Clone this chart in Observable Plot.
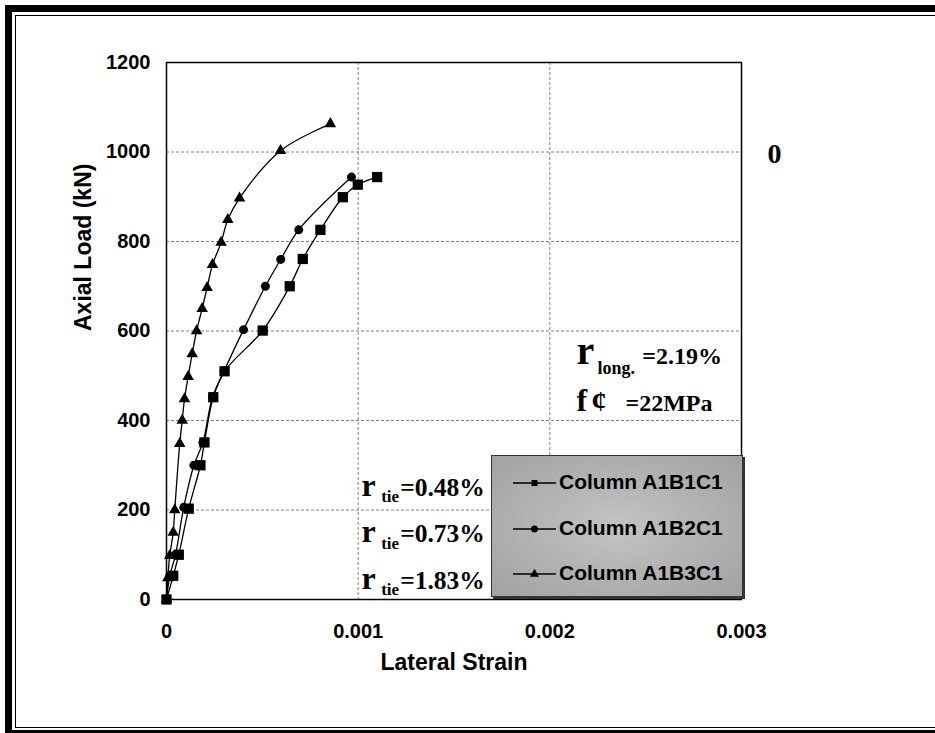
<!DOCTYPE html>
<html><head><meta charset="utf-8">
<script src="https://cdn.jsdelivr.net/npm/d3@7"></script>
<script src="https://cdn.jsdelivr.net/npm/@observablehq/plot@0.6"></script>
<style>
html,body{margin:0;padding:0;background:#fff;overflow:hidden}
#wrap{position:relative;width:935px;height:733px;overflow:hidden}
#chart svg{display:block;position:absolute;left:0;top:0}
.b1{position:absolute;left:5px;top:5px;width:930px;height:731.5px;border:7.5px solid #000;border-right:none;box-sizing:border-box}
.b2{position:absolute;left:14.7px;top:14.5px;width:920.3px;height:713px;border:1.6px solid #000;border-right:none;box-sizing:border-box}
#legend{position:absolute;left:491px;top:455px;width:252px;height:142px;box-sizing:border-box;border:1.5px solid #333;
 box-shadow:2px 2px 0 #333;background:radial-gradient(ellipse at center,#c4c4c4 0%,#b4b4b4 45%,#a2a2a2 100%);
 font-family:"Liberation Sans",Arial,sans-serif;font-weight:bold;font-size:21px;color:#000}
#legend .row{position:absolute;left:0;height:30px;width:100%}
#legend svg{position:absolute;left:21px;top:8px}
#legend span{position:absolute;left:67px;top:2px;white-space:nowrap}
</style>
</head><body>
<div id="wrap"><div class="b1"></div><div class="b2"></div><div id="chart"></div><div id="legend"></div></div>
<script>
// ---- data ----
const seriesNames = ["Column A1B1C1", "Column A1B2C1", "Column A1B3C1"];
const seriesSymbols = ["square", "circle", "triangle"];
const strainA1B1C1 = [0, 0.000035, 0.000064, 0.000116, 0.000177, 0.000198, 0.000244, 0.000303, 0.000502, 0.000643, 0.000711, 0.000803, 0.00092, 0.000998, 0.001099];
const loadA1B1C1   = [0, 53, 100, 203, 300, 351, 452, 510, 601, 700, 761, 826, 899, 927, 944];
const strainA1B2C1 = [0, 0.000017, 0.000047, 0.00009, 0.000143, 0.00019, 0.00024, 0.0003, 0.000402, 0.000516, 0.000596, 0.00069, 0.000965];
const loadA1B2C1   = [0, 53, 100, 206, 300, 351, 452, 510, 603, 700, 760, 826, 944];
const strainA1B3C1 = [0, 0.000007, 0.000017, 0.000035, 0.000043, 0.000069, 0.000082, 0.000094, 0.000113, 0.000134, 0.000157, 0.000186, 0.000212, 0.00024, 0.000285, 0.00032, 0.000381, 0.000595, 0.000855];
const loadA1B3C1   = [0, 48, 98, 150, 200, 348, 400, 448, 498, 549, 600, 650, 697, 748, 798, 849, 897, 1003, 1063];
const xTicks = [0, 0.001, 0.002, 0.003];
const xTickLabels = ["0", "0.001", "0.002", "0.003"];
const yTicks = [0, 200, 400, 600, 800, 1000, 1200];
const tieLabels = ["=0.48%", "=0.73%", "=1.83%"];
const xLabel = "Lateral Strain";
const yLabel = "Axial Load (kN)";

const strains = [strainA1B1C1, strainA1B2C1, strainA1B3C1];
const loads = [loadA1B1C1, loadA1B2C1, loadA1B3C1];
const rows = seriesNames.flatMap((name, i) => strains[i].map((s, j) => ({series: name, strain: s, load: loads[i][j]})));

const serif = "'Liberation Serif','Times New Roman',serif";
const sans = "'Liberation Sans',Arial,sans-serif";
const txt = (t, x, y, o) => Plot.text([t], {x: () => x, y: () => y, text: d => d, textAnchor: "start", lineAnchor: "bottom", fontFamily: serif, fill: "black", ...o});
const symScale = {domain: seriesNames, range: seriesSymbols};

const tieY = [232, 128, 24];
const tieSubY = [217, 113, 9];

const plot = Plot.plot({
  width: 935, height: 733,
  marginLeft: 166, marginRight: 194, marginTop: 62, marginBottom: 134,
  x: {domain: [0, 0.003]},
  y: {domain: [0, 1200]},
  symbol: symScale,
  style: {fontFamily: sans, fontSize: "20px", fontWeight: "bold", color: "black", background: "transparent"},
  marks: [
    Plot.gridX({ticks: [0.001, 0.002], stroke: "#808080", strokeOpacity: 1, strokeDasharray: "3,2"}),
    Plot.gridY({ticks: [200, 400, 600, 800, 1000], stroke: "#808080", strokeOpacity: 1, strokeDasharray: "3,2"}),
    Plot.frame({stroke: "black", strokeWidth: 1.5}),
    Plot.axisX({ticks: xTicks, tickFormat: (d, i) => xTickLabels[i], tickSize: 0, tickPadding: 24, label: null, fontSize: 20, fontWeight: "bold"}),
    Plot.axisY({ticks: yTicks, tickFormat: d => String(d), tickSize: 0, tickPadding: 16, label: null, fontSize: 20, fontWeight: "bold"}),
    Plot.text([xLabel], {frameAnchor: "bottom", dy: 70, text: d => d, fontSize: 23, fontWeight: "bold", fontFamily: sans}),
    Plot.text([yLabel], {frameAnchor: "left", dx: -83, rotate: -90, text: d => d, fontSize: 23, fontWeight: "bold", fontFamily: sans}),
    Plot.line(rows, {x: "strain", y: "load", z: "series", curve: "catmull-rom", stroke: "black", strokeWidth: 1.3}),
    Plot.dot(rows.filter(d => d.series === seriesNames[0]), {x: "strain", y: "load", symbol: "series", fill: "black", r: 5.8}),
    Plot.dot(rows.filter(d => d.series === seriesNames[1]), {x: "strain", y: "load", symbol: "series", fill: "black", r: 4.5}),
    Plot.dot(rows.filter(d => d.series === seriesNames[2]), {x: "strain", y: "load", symbol: "series", fill: "black", r: 4.3}),
    // annotations
    txt("0", 0.003172, 976, {textAnchor: "middle", fontSize: 28, fontWeight: "bold"}),
    txt("r", 0.002139, 527, {fontSize: 40}),
    txt("long.", 0.002249, 505, {fontSize: 18, fontWeight: "bold"}),
    txt("=2.19%", 0.002482, 527, {fontSize: 24, fontWeight: "bold"}),
    txt("f", 0.002139, 422, {fontSize: 32, fontWeight: "bold"}),
    txt("¢", 0.002217, 422, {fontSize: 30, fontWeight: "bold"}),
    txt("=22MPa", 0.002395, 422, {fontSize: 24, fontWeight: "bold"}),
    ...tieLabels.flatMap((t, i) => [
      txt("r", 0.001018, tieY[i], {fontSize: 32}),
      txt("tie", 0.00112, tieSubY[i], {fontSize: 17, fontWeight: "bold"}),
      txt(t, 0.001219, tieY[i], {fontSize: 25.5, fontWeight: "bold"})
    ])
  ]
});
document.getElementById("chart").appendChild(plot);

// legend
const legend = d3.select("#legend");
const legendTops = [12, 58, 103];
seriesNames.forEach((name, i) => {
  const row = legend.append("div").attr("class", "row").style("top", legendTops[i] + "px");
  const svg = row.append("svg").attr("width", 45).attr("height", 14);
  svg.append("line").attr("x1", 0).attr("x2", 43).attr("y1", 7).attr("y2", 7).attr("stroke", "black").attr("stroke-width", 1.3);
  const type = {square: d3.symbolSquare, circle: d3.symbolCircle, triangle: d3.symbolTriangle}[seriesSymbols[i]];
  svg.append("path").attr("d", d3.symbol(type, 36)()).attr("transform", "translate(21.5,7)").attr("fill", "black");
  row.append("span").text(name);
});
</script>
</body></html>
